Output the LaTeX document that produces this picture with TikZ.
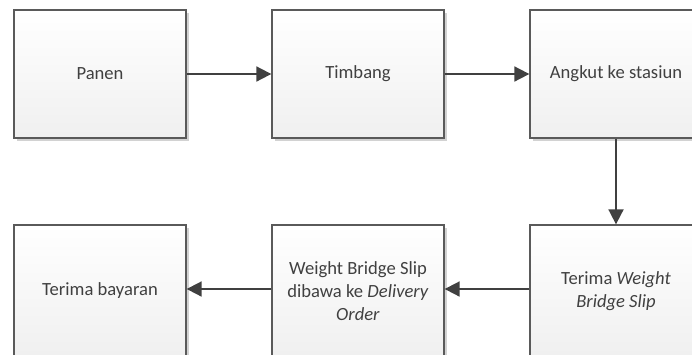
\documentclass[tikz,border=0pt]{standalone}
\usepackage{fontspec}
\setmainfont{Carlito}
\usetikzlibrary{arrows.meta,shadows,positioning}
\definecolor{boxline}{HTML}{5A5A5A}
\definecolor{ink}{HTML}{404040}
\definecolor{arrowc}{HTML}{404040}
\tikzset{
  procbox/.style={draw=boxline, line width=1.3pt, minimum width=172pt, minimum height=128pt,
    top color=white, bottom color=black!6, text=ink, align=center,
    font=\fontsize{18.6}{23}\selectfont,
    drop shadow={shadow xshift=2.5pt, shadow yshift=-2.5pt, fill=black!35, opacity=0.5}},
  lowbox/.style={procbox, minimum height=132pt},
  flow/.style={draw=arrowc, line width=1.8pt, -{Triangle[length=15pt,width=15pt]}}
}
\begin{document}
\begin{tikzpicture}[x=1pt,y=-1pt]
  \useasboundingbox (0,0) rectangle (692,354);
  \clip (0,0) rectangle (692,354);
  % top row
  \node[procbox] (panen)   at (100,74)  {Panen};
  \node[procbox] (timbang) at (358,74)  {Timbang};
  \node[procbox] (angkut)  at (616,74)  {Angkut ke stasiun};
  % bottom row, running off the lower edge
  \node[lowbox] (bayar)   at (100,291) {Terima bayaran};
  \node[lowbox] (dibawa)  at (358,291) {Weight Bridge Slip\\dibawa ke \textit{Delivery}\\\textit{Order}};
  \node[lowbox] (terima)  at (616,291) {Terima \textit{Weight}\\\textit{Bridge Slip}};
  \draw[flow] (panen) -- (timbang);
  \draw[flow] (timbang) -- (angkut);
  \draw[flow] (angkut) -- (terima);
  \draw[flow] (terima.west |- 0,289) -- (dibawa.east |- 0,289);
  \draw[flow] (dibawa.west |- 0,289) -- (bayar.east |- 0,289);
\end{tikzpicture}
\end{document}
